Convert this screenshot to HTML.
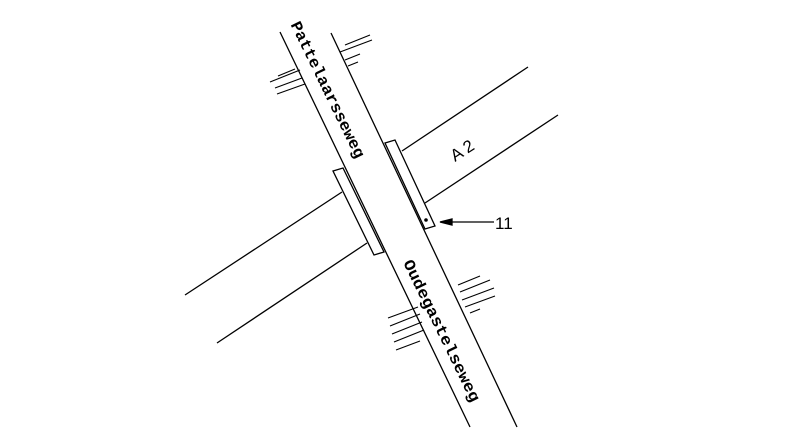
<!DOCTYPE html>
<html><head><meta charset="utf-8"><style>html,body{margin:0;padding:0;background:#fff}svg{display:block}</style></head>
<body>
<svg width="800" height="428" viewBox="0 0 800 428" xmlns="http://www.w3.org/2000/svg" stroke="#000" stroke-width="1.3" fill="none">
<line x1="280" y1="32" x2="470" y2="427"/>
<line x1="331" y1="33" x2="517" y2="427"/>
<line x1="402" y1="151" x2="528" y2="67"/>
<line x1="425" y1="203" x2="558" y2="115"/>
<line x1="185" y1="295" x2="342" y2="192"/>
<line x1="217" y1="343" x2="367" y2="243"/>
<polygon points="333,171 343,168 384,252 374,255" fill="#fff"/>
<polygon points="385,143 395,140 435,226 425,229" fill="#fff"/>
<circle cx="426" cy="220" r="1.8" fill="#000" stroke="none"/>
<line x1="447" y1="222" x2="494" y2="222"/>
<polygon points="440,222 452,219 452,225" fill="#000"/>
<g stroke-width="1.1">
<line x1="345" y1="45" x2="370" y2="35"/><line x1="340" y1="52" x2="372" y2="40"/><line x1="345" y1="60" x2="360" y2="54"/><line x1="348" y1="66" x2="358" y2="62"/>
<line x1="270" y1="82" x2="300" y2="70"/><line x1="278" y1="76" x2="295" y2="69"/><line x1="275" y1="88" x2="302" y2="78"/><line x1="277" y1="94" x2="305" y2="84"/>
<line x1="458" y1="285" x2="480" y2="276"/><line x1="460" y1="292" x2="490" y2="280"/><line x1="462" y1="300" x2="494" y2="288"/><line x1="465" y1="307" x2="495" y2="296"/><line x1="470" y1="313" x2="480" y2="309"/>
<line x1="388" y1="318" x2="418" y2="307"/><line x1="390" y1="326" x2="420" y2="314"/><line x1="392" y1="334" x2="422" y2="322"/><line x1="394" y1="342" x2="424" y2="330"/><line x1="396" y1="350" x2="420" y2="341"/>
</g>
<g fill="#000" stroke="none" font-family="Liberation Mono, monospace" font-size="16" font-weight="bold">
<text x="327" y="90" text-anchor="middle" dominant-baseline="middle" transform="rotate(64 327 90)" textLength="150" lengthAdjust="spacingAndGlyphs">Pattelaarsseweg</text>
<text x="441" y="331" text-anchor="middle" dominant-baseline="middle" transform="rotate(64 441 331)" textLength="156" lengthAdjust="spacingAndGlyphs">Oudegastelseweg</text>
<text x="455" y="162" font-family="Liberation Sans, sans-serif" font-size="17" font-weight="normal" transform="rotate(-33 455 162)">A 2</text>
<text x="495" y="229" font-family="Liberation Sans, sans-serif" font-size="17" font-weight="normal">11</text>
</g>
</svg>
</body></html>
